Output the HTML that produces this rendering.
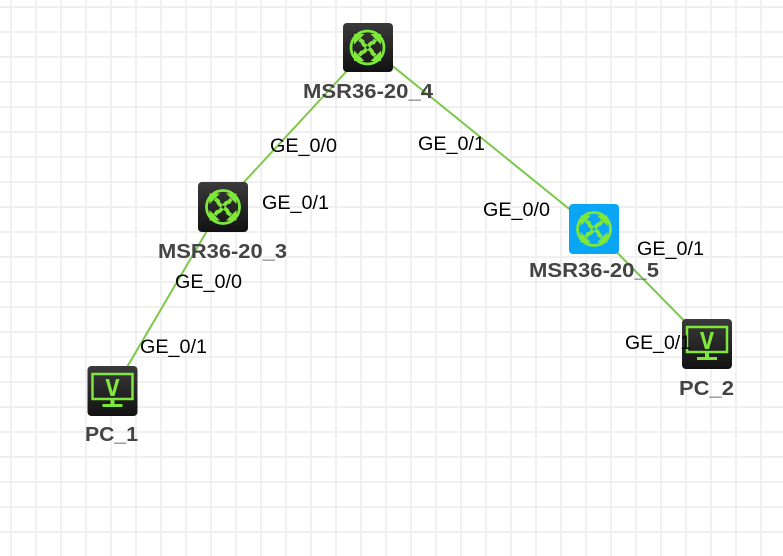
<!DOCTYPE html>
<html><head><meta charset="utf-8"><style>
html,body{margin:0;padding:0;background:#fff;}
svg{display:block;}
.l{font-family:"Liberation Sans",Arial,sans-serif;font-size:19px;fill:#000;}
.b{font-family:"Liberation Sans",Arial,sans-serif;font-size:20px;font-weight:bold;fill:#444;}
</style></head><body>
<svg width="783" height="556" viewBox="0 0 783 556" xmlns="http://www.w3.org/2000/svg">
<defs>
<pattern id="g" x="10" y="6" width="25" height="25" patternUnits="userSpaceOnUse">
<rect x="0" y="0" width="2" height="25" fill="#f0f0f0"/>
<rect x="0" y="0" width="25" height="2" fill="#f0f0f0"/>
</pattern>
<linearGradient id="dk" x1="0" y1="0" x2="0" y2="1"><stop offset="0" stop-color="#3a3a3a"/><stop offset="1" stop-color="#121212"/></linearGradient>
<g id="arr">
<path d="M-1,-1 Q-5,-3 -5,-6 L-8,-8" stroke="#7ee83a" stroke-width="3.8" fill="none"/>
<path d="M-13.5,-13.5 L-13.5,-3 L-3,-13.5 Z" fill="#7ee83a"/>
</g>
<g id="rt">
<circle cx="0" cy="0" r="16.5" fill="none" stroke="#7ee83a" stroke-width="2.8"/>
<use href="#arr"/>
<use href="#arr" transform="rotate(90)"/>
<use href="#arr" transform="rotate(180)"/>
<use href="#arr" transform="rotate(270)"/>
</g>
<g id="pc">
<rect x="-25" y="-25" width="50" height="50" rx="4" fill="url(#dk)"/>
<rect x="-20" y="-17" width="40" height="25" fill="none" stroke="#7ee83a" stroke-width="2.5"/>
<path d="M-7,-12 L-2,5 L2,5 L7,-12 L3.5,-12 L0,1 L-3.5,-12 Z" fill="#7ee83a"/>
<rect x="-2" y="9" width="4" height="4" fill="#7ee83a"/>
<rect x="-10" y="13" width="20" height="3" fill="#7ee83a"/>
</g>
</defs>
<rect width="783" height="556" fill="url(#g)"/>
<g stroke="#7cc84a" stroke-width="2">
<line x1="369" y1="47" x2="221" y2="207"/>
<line x1="369" y1="47" x2="594" y2="229"/>
<line x1="221" y1="207" x2="113" y2="391"/>
<line x1="594" y1="229" x2="707" y2="344"/>
</g>
<rect x="343" y="23" width="50" height="49" rx="4" fill="url(#dk)"/>
<use href="#rt" transform="translate(367.5,47.5)"/>
<rect x="198" y="182" width="50" height="50" rx="4" fill="url(#dk)"/>
<use href="#rt" transform="translate(223,207)"/>
<rect x="569" y="204" width="50" height="50" rx="4" fill="#0aa6f5"/>
<use href="#rt" transform="translate(594,229)"/>
<use href="#pc" transform="translate(112.5,391)"/>
<use href="#pc" transform="translate(707,344)"/>
<text class="b" x="303" y="98" textLength="130" lengthAdjust="spacingAndGlyphs">MSR36-20_4</text>
<text class="b" x="158" y="258" textLength="129" lengthAdjust="spacingAndGlyphs">MSR36-20_3</text>
<text class="b" x="529" y="277" textLength="130" lengthAdjust="spacingAndGlyphs">MSR36-20_5</text>
<text class="b" x="85" y="441" textLength="53" lengthAdjust="spacingAndGlyphs">PC_1</text>
<text class="b" x="679" y="395" textLength="55" lengthAdjust="spacingAndGlyphs">PC_2</text>
<text class="l" x="270" y="152" textLength="67" lengthAdjust="spacingAndGlyphs">GE_0/0</text>
<text class="l" x="418" y="150" textLength="67" lengthAdjust="spacingAndGlyphs">GE_0/1</text>
<text class="l" x="262" y="209" textLength="67" lengthAdjust="spacingAndGlyphs">GE_0/1</text>
<text class="l" x="175" y="288" textLength="67" lengthAdjust="spacingAndGlyphs">GE_0/0</text>
<text class="l" x="140" y="353" textLength="67" lengthAdjust="spacingAndGlyphs">GE_0/1</text>
<text class="l" x="483" y="216" textLength="67" lengthAdjust="spacingAndGlyphs">GE_0/0</text>
<text class="l" x="637" y="255" textLength="67" lengthAdjust="spacingAndGlyphs">GE_0/1</text>
<text class="l" x="625" y="349" textLength="66" lengthAdjust="spacingAndGlyphs">GE_0/1</text>
</svg>
</body></html>
